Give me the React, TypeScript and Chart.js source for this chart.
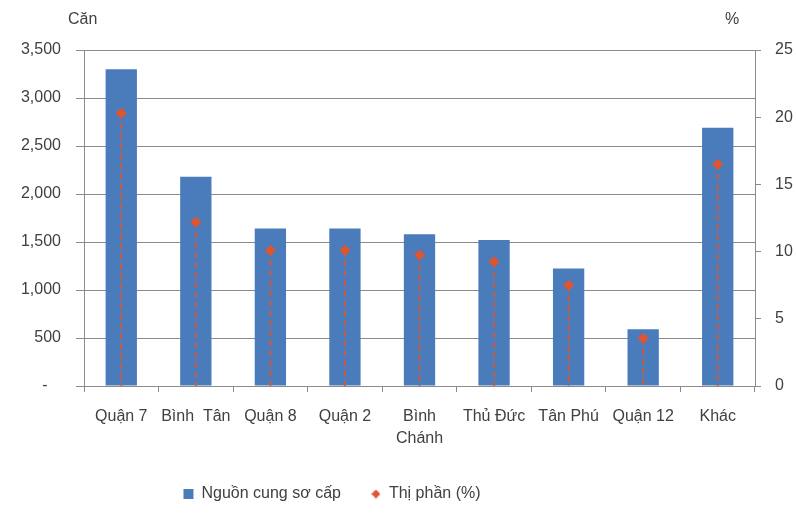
import React, { useEffect, useRef } from 'react';
import { Chart, registerables } from 'chart.js';

Chart.register(...registerables);

const categories: (string | string[])[] = ['Quận 7', 'Bình  Tân', 'Quận 8', 'Quận 2', ['Bình', 'Chánh'], 'Thủ Đức', 'Tân Phú', 'Quận 12', 'Khác'];
const supply = [3300, 2180, 1640, 1640, 1580, 1520, 1225, 590, 2690];
const share = [20.3, 12.2, 10.1, 10.1, 9.75, 9.25, 7.5, 3.55, 16.5];
const supplyLabel = 'Nguồn cung sơ cấp';
const shareLabel = 'Thị phần (%)';
const leftTitle = 'Căn';
const rightTitle = '%';

const FONT = "'Liberation Sans', Arial, sans-serif";
const TEXT = '#404040';
const BAR = '#4A7CBC';
const RED = '#DE5530';
const GRID = '#8a8a8a';

function makeDiamond(size: number, color: string) {
  const c = document.createElement('canvas');
  c.width = size;
  c.height = size;
  const ctx = c.getContext('2d')!;
  ctx.fillStyle = color;
  ctx.beginPath();
  ctx.moveTo(size / 2, 0);
  ctx.lineTo(size, size / 2);
  ctx.lineTo(size / 2, size);
  ctx.lineTo(0, size / 2);
  ctx.closePath();
  ctx.fill();
  return c;
}

const dropLines = {
  id: 'dropLines',
  beforeDatasetDraw(chart: any, args: any) {
    if (args.index !== 1) return;
    const ctx = chart.ctx;
    const bottom = chart.chartArea.bottom;
    ctx.save();
    ctx.strokeStyle = 'rgba(222,85,48,0.85)';
    ctx.lineWidth = 2;
    ctx.setLineDash([6, 4]);
    args.meta.data.forEach((pt: any) => {
      ctx.beginPath();
      ctx.moveTo(pt.x, pt.y);
      ctx.lineTo(pt.x, bottom);
      ctx.stroke();
    });
    ctx.restore();
  },
};

const axisTitles = {
  id: 'axisTitles',
  afterDraw(chart: any) {
    const ctx = chart.ctx;
    ctx.save();
    ctx.fillStyle = TEXT;
    ctx.font = `16px ${FONT}`;
    ctx.textBaseline = 'middle';
    ctx.textAlign = 'left';
    ctx.fillText(leftTitle, 68, 20);
    ctx.fillText(rightTitle, 725, 20);
    ctx.restore();
  },
};

const legendShift = {
  id: 'legendShift',
  afterLayout(chart: any) {
    const lg = chart.legend;
    if (lg) {
      lg.left -= 66;
      lg.right -= 66;
    }
  },
};

export default function App() {
  const ref = useRef<HTMLCanvasElement | null>(null);
  useEffect(() => {
    if (!ref.current) return;
    const diamond = makeDiamond(9, RED);
    const chart = new Chart(ref.current, {
      type: 'bar',
      data: {
        labels: categories as any,
        datasets: [
          {
            type: 'bar',
            label: supplyLabel,
            data: supply,
            backgroundColor: BAR,
            yAxisID: 'y',
            categoryPercentage: 1,
            barPercentage: 0.42,
            order: 2,
          } as any,
          {
            type: 'line',
            label: shareLabel,
            data: share,
            yAxisID: 'y1',
            showLine: false,
            pointStyle: 'rectRot',
            pointRadius: 5,
            pointBackgroundColor: RED,
            pointBorderColor: RED,
            backgroundColor: RED,
            borderColor: RED,
            order: 1,
          } as any,
        ],
      },
      options: {
        responsive: false,
        animation: false,
        devicePixelRatio: 1,
        layout: { padding: { top: 50, bottom: 1, left: 0, right: 0 } },
        plugins: {
          tooltip: { enabled: false },
          legend: {
            position: 'bottom',
            labels: {
              usePointStyle: true,
              boxWidth: 10,
              boxHeight: 10,
              padding: 30,
              color: TEXT,
              font: { family: FONT, size: 16 },
              sort: (a: any, b: any) => a.datasetIndex - b.datasetIndex,
              generateLabels: (c: any) => {
                const items = (Chart.defaults.plugins.legend.labels as any).generateLabels(c);
                items.forEach((it: any) => {
                  it.pointStyle = it.datasetIndex === 0 ? 'rect' : diamond;
                });
                return items;
              },
            },
          },
        },
        scales: {
          x: {
            offset: true,
            afterFit: (s: any) => { s.height = 70; },
            grid: {
              offset: true,
              drawOnChartArea: false,
              drawTicks: true,
              tickLength: 6,
              color: GRID,
            },
            border: { display: true, color: GRID },
            ticks: {
              color: TEXT,
              padding: 14,
              maxRotation: 0,
              autoSkip: false,
              font: { family: FONT, size: 16, lineHeight: 1.35 },
            },
          },
          y: {
            position: 'left',
            min: 0,
            max: 3500,
            afterFit: (s: any) => { s.width = 84; },
            grid: { color: GRID, tickLength: 8, drawTicks: true },
            border: { display: true, color: GRID },
            ticks: {
              stepSize: 500,
              color: TEXT,
              padding: 15,
              font: { family: FONT, size: 16 },
              callback: (v: any) => (v === 0 ? '-   ' : Number(v).toLocaleString('en-US')),
            },
          },
          y1: {
            position: 'right',
            min: 0,
            max: 25,
            afterFit: (s: any) => { s.width = 41; },
            grid: { drawOnChartArea: false, drawTicks: true, tickLength: 6, color: GRID },
            border: { display: true, color: GRID },
            ticks: {
              stepSize: 5,
              color: TEXT,
              padding: 14,
              font: { family: FONT, size: 16 },
            },
          },
        },
      },
      plugins: [dropLines, axisTitles, legendShift],
    });
    return () => chart.destroy();
  }, []);
  return (
    <div style={{ position: 'fixed', left: 0, top: 0, width: 796, height: 513, background: '#fff' }}>
      <canvas ref={ref} width={796} height={513} />
    </div>
  );
}
